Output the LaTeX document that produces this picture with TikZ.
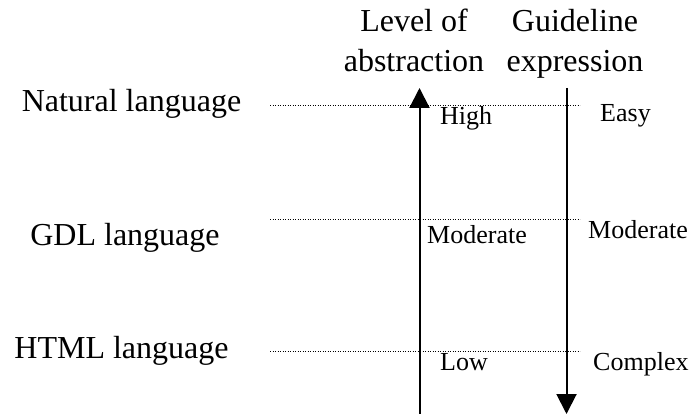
\documentclass[tikz,border=0pt]{standalone}
\usepackage{fontspec}
\setmainfont{Liberation Serif}
\usetikzlibrary{arrows.meta}

\tikzset{
	bigtext/.style={font=\fontsize{32}{40}\selectfont, inner sep=0pt, anchor=base},
	smalltext/.style={font=\fontsize{26}{32}\selectfont, inner sep=0pt, anchor=base west},
	levelline/.style={dotted, line width=0.9pt, dash pattern=on 1.2pt off 1.3pt},
	scaleaxis/.style={line width=2pt, -{Triangle[length=20pt, width=20pt]}}
}

\begin{document}
\begin{tikzpicture}[x=1pt, y=-1pt]
	\useasboundingbox (0, 0) rectangle (693, 414);
	% Paths, nodes, and wires:
	\node[bigtext](N1) at (131.5, 112){Natural language};
	\node[bigtext](N2) at (125, 245){GDL language};
	\node[bigtext](N3) at (121.5, 358){HTML language};
	\node[bigtext, align=center](N4) at (414, 72){Level of\\abstraction};
	\node[bigtext, align=center](N5) at (575, 72){Guideline\\expression};
	\node[smalltext](N6) at (440, 125){High};
	\node[smalltext](N7) at (427, 243){Moderate};
	\node[smalltext](N8) at (440, 370){Low};
	\node[smalltext](N9) at (600, 122){Easy};
	\node[smalltext](N10) at (588, 238){Moderate};
	\node[smalltext](N11) at (593, 370){Complex};
	\coordinate (L1) at (270, 105);
	\coordinate (R1) at (580, 105);
	\coordinate (L2) at (270, 219);
	\coordinate (R2) at (580, 219);
	\coordinate (L3) at (270, 351);
	\coordinate (R3) at (580, 351);
	\draw[levelline] (L1) -- (R1);
	\draw[levelline] (L2) -- (R2);
	\draw[levelline] (L3) -- (R3);
	\coordinate (A1) at (419.5, 414);
	\coordinate (A2) at (419.5, 88);
	\coordinate (B1) at (566.5, 88);
	\coordinate (B2) at (566.5, 414);
	\draw[scaleaxis] (A1) -- (A2);
	\draw[scaleaxis] (B1) -- (B2);
\end{tikzpicture}
\end{document}
